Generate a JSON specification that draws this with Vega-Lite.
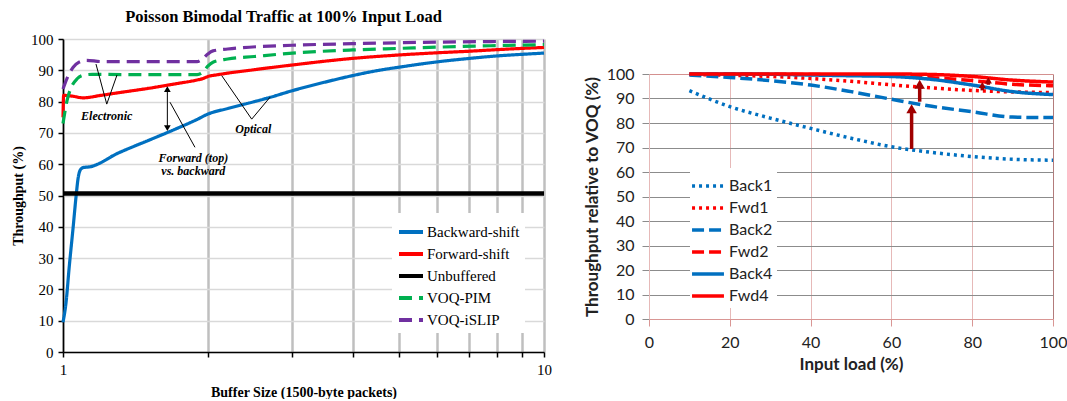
{
  "$schema": "https://vega.github.io/schema/vega-lite/v6.json",
  "background": "white",
  "padding": {"left": 11, "top": 8, "right": 0, "bottom": 0},
  "spacing": 30,
  "config": {"view": {"stroke": null}},
  "resolve": {"scale": {"color": "independent", "strokeDash": "independent"}, "legend": {"color": "independent", "strokeDash": "independent"}},
  "hconcat": [
    {
      "width": 481,
      "height": 313,
      "title": {"text": "Poisson Bimodal Traffic at 100% Input Load", "font": "Liberation Serif", "fontSize": 16.5, "fontWeight": "bold", "color": "black", "offset": 7, "anchor": "middle", "dx": -20},
      "layer": [
        {
          "data": {"values": [
            {"series": "Backward-shift", "x": 1, "y": 9.5},
            {"series": "Backward-shift", "x": 1.015, "y": 16},
            {"series": "Backward-shift", "x": 1.03, "y": 27},
            {"series": "Backward-shift", "x": 1.05, "y": 40},
            {"series": "Backward-shift", "x": 1.065, "y": 50},
            {"series": "Backward-shift", "x": 1.075, "y": 55.5},
            {"series": "Backward-shift", "x": 1.085, "y": 58},
            {"series": "Backward-shift", "x": 1.1, "y": 58.9},
            {"series": "Backward-shift", "x": 1.14, "y": 59.2},
            {"series": "Backward-shift", "x": 1.3, "y": 63.5},
            {"series": "Backward-shift", "x": 1.5, "y": 67.5},
            {"series": "Backward-shift", "x": 1.7, "y": 71},
            {"series": "Backward-shift", "x": 1.9, "y": 74.3},
            {"series": "Backward-shift", "x": 2, "y": 76},
            {"series": "Backward-shift", "x": 2.2, "y": 77.8},
            {"series": "Backward-shift", "x": 2.5, "y": 80},
            {"series": "Backward-shift", "x": 2.7, "y": 81.4},
            {"series": "Backward-shift", "x": 3, "y": 83.5},
            {"series": "Backward-shift", "x": 3.5, "y": 86.2},
            {"series": "Backward-shift", "x": 4, "y": 88.3},
            {"series": "Backward-shift", "x": 4.5, "y": 89.9},
            {"series": "Backward-shift", "x": 5, "y": 91},
            {"series": "Backward-shift", "x": 6, "y": 92.7},
            {"series": "Backward-shift", "x": 7, "y": 93.8},
            {"series": "Backward-shift", "x": 8, "y": 94.6},
            {"series": "Backward-shift", "x": 9, "y": 95.1},
            {"series": "Backward-shift", "x": 10, "y": 95.5},
            {"series": "Forward-shift", "x": 1, "y": 75},
            {"series": "Forward-shift", "x": 1.003, "y": 82},
            {"series": "Forward-shift", "x": 1.05, "y": 81.7},
            {"series": "Forward-shift", "x": 1.1, "y": 81.2},
            {"series": "Forward-shift", "x": 1.2, "y": 82},
            {"series": "Forward-shift", "x": 1.3, "y": 82.8},
            {"series": "Forward-shift", "x": 1.5, "y": 84.2},
            {"series": "Forward-shift", "x": 1.7, "y": 85.6},
            {"series": "Forward-shift", "x": 1.9, "y": 86.9},
            {"series": "Forward-shift", "x": 1.95, "y": 87.3},
            {"series": "Forward-shift", "x": 2, "y": 88},
            {"series": "Forward-shift", "x": 2.1, "y": 88.6},
            {"series": "Forward-shift", "x": 2.5, "y": 90.2},
            {"series": "Forward-shift", "x": 3, "y": 91.7},
            {"series": "Forward-shift", "x": 3.5, "y": 92.9},
            {"series": "Forward-shift", "x": 4, "y": 93.8},
            {"series": "Forward-shift", "x": 5, "y": 94.9},
            {"series": "Forward-shift", "x": 6, "y": 95.6},
            {"series": "Forward-shift", "x": 7, "y": 96.1},
            {"series": "Forward-shift", "x": 8, "y": 96.6},
            {"series": "Forward-shift", "x": 9, "y": 97},
            {"series": "Forward-shift", "x": 10, "y": 97.3},
            {"series": "Unbuffered", "x": 1, "y": 50.6},
            {"series": "Unbuffered", "x": 10, "y": 50.6},
            {"series": "VOQ-PIM", "x": 1, "y": 73},
            {"series": "VOQ-PIM", "x": 1.02, "y": 80.5},
            {"series": "VOQ-PIM", "x": 1.04, "y": 84.5},
            {"series": "VOQ-PIM", "x": 1.07, "y": 87.3},
            {"series": "VOQ-PIM", "x": 1.1, "y": 88.4},
            {"series": "VOQ-PIM", "x": 1.15, "y": 88.7},
            {"series": "VOQ-PIM", "x": 1.5, "y": 88.6},
            {"series": "VOQ-PIM", "x": 1.9, "y": 88.6},
            {"series": "VOQ-PIM", "x": 1.95, "y": 89.3},
            {"series": "VOQ-PIM", "x": 2, "y": 91.3},
            {"series": "VOQ-PIM", "x": 2.05, "y": 92.6},
            {"series": "VOQ-PIM", "x": 2.2, "y": 93.6},
            {"series": "VOQ-PIM", "x": 2.5, "y": 94.4},
            {"series": "VOQ-PIM", "x": 3, "y": 95.5},
            {"series": "VOQ-PIM", "x": 4, "y": 96.5},
            {"series": "VOQ-PIM", "x": 5, "y": 97},
            {"series": "VOQ-PIM", "x": 6, "y": 97.4},
            {"series": "VOQ-PIM", "x": 8, "y": 97.9},
            {"series": "VOQ-PIM", "x": 10, "y": 98.2},
            {"series": "VOQ-iSLIP", "x": 1, "y": 84},
            {"series": "VOQ-iSLIP", "x": 1.02, "y": 87.5},
            {"series": "VOQ-iSLIP", "x": 1.05, "y": 91},
            {"series": "VOQ-iSLIP", "x": 1.08, "y": 92.6},
            {"series": "VOQ-iSLIP", "x": 1.12, "y": 93.2},
            {"series": "VOQ-iSLIP", "x": 1.2, "y": 92.8},
            {"series": "VOQ-iSLIP", "x": 1.9, "y": 92.8},
            {"series": "VOQ-iSLIP", "x": 1.95, "y": 93.6},
            {"series": "VOQ-iSLIP", "x": 2, "y": 95.2},
            {"series": "VOQ-iSLIP", "x": 2.05, "y": 96.2},
            {"series": "VOQ-iSLIP", "x": 2.2, "y": 96.8},
            {"series": "VOQ-iSLIP", "x": 3, "y": 98},
            {"series": "VOQ-iSLIP", "x": 4, "y": 98.5},
            {"series": "VOQ-iSLIP", "x": 6, "y": 99},
            {"series": "VOQ-iSLIP", "x": 10, "y": 99.3}
          ]},
          "mark": {"type": "line", "interpolate": "monotone", "strokeCap": "butt"},
          "encoding": {
            "x": {"field": "x", "type": "quantitative", "title": "Buffer Size (1500-byte packets)",
              "scale": {"type": "log", "domain": [1, 10]},
              "axis": {"values": [1, 2, 3, 4, 5, 6, 7, 8, 9, 10], "tickCount": 20, "labelExpr": "datum.value === 1 || datum.value === 10 ? datum.label : ''",
                "grid": true, "gridColor": "#BFBFBF", "gridWidth": 2.5, "domainColor": "black", "domainWidth": 1.5,
                "tickColor": "black", "tickSize": 5, "tickWidth": 1.5, "labelFont": "Liberation Serif", "labelFontSize": 15,
                "labelColor": "black", "labelPadding": 5, "labelFlush": false, "labelOverlap": false, "titleFont": "Liberation Serif", "titleFontSize": 14,
                "titleFontWeight": "bold", "titleColor": "black", "titlePadding": 8}},
            "y": {"field": "y", "type": "quantitative", "title": "Throughput (%)",
              "scale": {"domain": [0, 100]},
              "axis": {"values": [0, 10, 20, 30, 40, 50, 60, 70, 80, 90, 100], "tickCount": 20, "labelOverlap": false, "grid": true, "gridColor": "#D9D9D9", "gridWidth": 1.5,
                "domainColor": "black", "domainWidth": 1.5, "tickColor": "black", "tickSize": 5, "tickWidth": 1.5,
                "labelFont": "Liberation Serif", "labelFontSize": 15, "labelColor": "black", "labelPadding": 5,
                "titleFont": "Liberation Serif", "titleFontSize": 14, "titleFontWeight": "bold", "titleColor": "black", "titlePadding": 5}},
            "color": {"field": "series", "type": "nominal",
              "scale": {"domain": ["Backward-shift", "Forward-shift", "Unbuffered", "VOQ-PIM", "VOQ-iSLIP"], "range": ["#0070C0", "#FF0000", "#000000", "#00B050", "#7030A0"]},
              "legend": {"title": null, "orient": "none", "legendX": 329, "legendY": 174, "fillColor": "white", "symbolType": "stroke", "symbolSize": 576, "symbolStrokeWidth": 4, "labelFont": "Liberation Serif", "labelFontSize": 15, "labelColor": "black", "rowPadding": 0, "padding": 5, "labelOffset": 2}},
            "strokeDash": {"field": "series", "type": "nominal",
              "scale": {"domain": ["Backward-shift", "Forward-shift", "Unbuffered", "VOQ-PIM", "VOQ-iSLIP"], "range": [[1, 0], [1, 0], [1, 0], [13, 7], [13, 7]]},
              "legend": {"title": null, "orient": "none", "legendX": 329, "legendY": 174, "fillColor": "white", "symbolType": "stroke", "symbolSize": 576, "symbolStrokeWidth": 4, "labelFont": "Liberation Serif", "labelFontSize": 15, "labelColor": "black", "rowPadding": 0, "padding": 5, "labelOffset": 2}},
            "strokeWidth": {"condition": {"test": "datum.series === 'Unbuffered'", "value": 4.5}, "value": 3.2}
          }
        },
        {
          "data": {"values": [
            {"x": 1.233, "y": 79.2, "x2": 1.171, "y2": 92.0},
            {"x": 1.233, "y": 79.2, "x2": 1.295, "y2": 88.5},
            {"x": 2.468, "y": 74.4, "x2": 2.138, "y2": 88.3},
            {"x": 2.468, "y": 74.4, "x2": 2.694, "y2": 81.4},
            {"x": 1.669, "y": 79.8, "x2": 1.881, "y2": 65.4},
            {"x": 1.648, "y": 72.0, "x2": 1.648, "y2": 83.8}
          ]},
          "mark": {"type": "rule", "color": "black", "strokeWidth": 1},
          "encoding": {
            "x": {"field": "x", "type": "quantitative"},
            "y": {"field": "y", "type": "quantitative"},
            "x2": {"field": "x2"},
            "y2": {"field": "y2"}
          }
        },
        {
          "data": {"values": [{"x": 1.648, "y": 84.0}]},
          "mark": {"type": "point", "shape": "triangle-up", "filled": true, "color": "black", "size": 45, "opacity": 1},
          "encoding": {"x": {"field": "x", "type": "quantitative"}, "y": {"field": "y", "type": "quantitative"}}
        },
        {
          "data": {"values": [{"x": 1.648, "y": 71.5}]},
          "mark": {"type": "point", "shape": "triangle-down", "filled": true, "color": "black", "size": 45, "opacity": 1},
          "encoding": {"x": {"field": "x", "type": "quantitative"}, "y": {"field": "y", "type": "quantitative"}}
        },
        {
          "data": {"values": [
            {"x": 1.233, "y": 75.5, "label": "Electronic"},
            {"x": 2.486, "y": 71.2, "label": "Optical"},
            {"x": 1.866, "y": 61.9, "label": "Forward (top)"},
            {"x": 1.866, "y": 57.9, "label": "vs. backward"}
          ]},
          "mark": {"type": "text", "font": "Liberation Serif", "fontSize": 12, "fontStyle": "italic", "fontWeight": "bold", "color": "black", "align": "center", "baseline": "middle"},
          "encoding": {
            "x": {"field": "x", "type": "quantitative"},
            "y": {"field": "y", "type": "quantitative"},
            "text": {"field": "label"}
          }
        }
      ]
    },
    {
      "spacing": 10,
      "vconcat": [
        {
          "width": 404,
          "height": 17,
          "data": {"values": []},
          "mark": "point"
        },
        {
          "width": 404,
          "height": 245,
          "layer": [
            {
              "data": {"values": [
                {"line": "Back1", "x": 10, "y": 93.2}, {"line": "Back1", "x": 20, "y": 86.7}, {"line": "Back1", "x": 30, "y": 82}, {"line": "Back1", "x": 40, "y": 77.8}, {"line": "Back1", "x": 50, "y": 73.8}, {"line": "Back1", "x": 60, "y": 70.3}, {"line": "Back1", "x": 70, "y": 68}, {"line": "Back1", "x": 80, "y": 66.3}, {"line": "Back1", "x": 90, "y": 65.2}, {"line": "Back1", "x": 100, "y": 64.8},
                {"line": "Fwd1", "x": 10, "y": 99.8}, {"line": "Fwd1", "x": 20, "y": 99.5}, {"line": "Fwd1", "x": 30, "y": 99}, {"line": "Fwd1", "x": 40, "y": 98.2}, {"line": "Fwd1", "x": 50, "y": 97}, {"line": "Fwd1", "x": 60, "y": 95.6}, {"line": "Fwd1", "x": 70, "y": 94.3}, {"line": "Fwd1", "x": 80, "y": 93.3}, {"line": "Fwd1", "x": 90, "y": 92.7}, {"line": "Fwd1", "x": 100, "y": 92.4},
                {"line": "Back2", "x": 10, "y": 99.6}, {"line": "Back2", "x": 20, "y": 98.6}, {"line": "Back2", "x": 30, "y": 97.3}, {"line": "Back2", "x": 40, "y": 95.5}, {"line": "Back2", "x": 50, "y": 92.8}, {"line": "Back2", "x": 60, "y": 89.7}, {"line": "Back2", "x": 70, "y": 86.8}, {"line": "Back2", "x": 80, "y": 84.6}, {"line": "Back2", "x": 90, "y": 82.4}, {"line": "Back2", "x": 100, "y": 82.2},
                {"line": "Fwd2", "x": 10, "y": 100}, {"line": "Fwd2", "x": 20, "y": 100}, {"line": "Fwd2", "x": 30, "y": 99.9}, {"line": "Fwd2", "x": 40, "y": 99.8}, {"line": "Fwd2", "x": 50, "y": 99.6}, {"line": "Fwd2", "x": 60, "y": 99.3}, {"line": "Fwd2", "x": 70, "y": 98.5}, {"line": "Fwd2", "x": 80, "y": 97.3}, {"line": "Fwd2", "x": 90, "y": 95.8}, {"line": "Fwd2", "x": 100, "y": 95.2},
                {"line": "Back4", "x": 10, "y": 100}, {"line": "Back4", "x": 20, "y": 100}, {"line": "Back4", "x": 30, "y": 99.9}, {"line": "Back4", "x": 40, "y": 99.6}, {"line": "Back4", "x": 50, "y": 99.3}, {"line": "Back4", "x": 60, "y": 99}, {"line": "Back4", "x": 70, "y": 97.8}, {"line": "Back4", "x": 80, "y": 95.5}, {"line": "Back4", "x": 90, "y": 92.8}, {"line": "Back4", "x": 100, "y": 91.6},
                {"line": "Fwd4", "x": 10, "y": 100}, {"line": "Fwd4", "x": 20, "y": 100}, {"line": "Fwd4", "x": 30, "y": 100}, {"line": "Fwd4", "x": 40, "y": 100}, {"line": "Fwd4", "x": 50, "y": 100}, {"line": "Fwd4", "x": 60, "y": 100}, {"line": "Fwd4", "x": 70, "y": 99.8}, {"line": "Fwd4", "x": 80, "y": 99}, {"line": "Fwd4", "x": 90, "y": 97.5}, {"line": "Fwd4", "x": 100, "y": 96.7}
              ]},
              "mark": {"type": "line", "interpolate": "monotone", "strokeWidth": 3.5, "strokeCap": "butt"},
              "encoding": {
                "x": {"field": "x", "type": "quantitative", "title": "Input load (%)",
                  "scale": {"domain": [0, 100]},
                  "axis": {"values": [0, 20, 40, 60, 80, 100], "tickCount": 20, "labelOverlap": false, "grid": true,
                    "gridColor": {"condition": {"test": "datum.value === 100", "value": "#B37B7B"}, "value": "#E6B9B8"},
                    "domainColor": "#D99694", "tickColor": "#D99694", "tickSize": 7, "labelFont": "Lato", "labelFontSize": 16,
                    "labelColor": "#222222", "labelPadding": 8, "labelFlush": false, "titleFont": "Lato", "titleFontSize": 17,
                    "titleFontWeight": "bold", "titleColor": "#222222", "titlePadding": 6}},
                "y": {"field": "y", "type": "quantitative", "title": "Throughput relative to VOQ (%)",
                  "scale": {"domain": [0, 100]},
                  "axis": {"values": [0, 10, 20, 30, 40, 50, 60, 70, 80, 90, 100], "tickCount": 20, "labelOverlap": false, "grid": true,
                    "gridColor": {"condition": {"test": "datum.value === 100 || datum.value === 0", "value": "#D4908F"}, "value": "#8C8C8C"},
                    "domainColor": "#E6B9B8", "tickColor": "#8C8C8C", "tickSize": 7, "labelFont": "Lato", "labelFontSize": 16,
                    "labelColor": "#222222", "labelPadding": 8, "titleFont": "Lato", "titleFontSize": 17, "titleFontWeight": "bold",
                    "titleColor": "#222222", "titlePadding": 5}},
                "color": {"field": "line", "type": "nominal",
                  "scale": {"domain": ["Back1", "Fwd1", "Back2", "Fwd2", "Back4", "Fwd4"], "range": ["#0070C0", "#FF0000", "#0070C0", "#FF0000", "#0070C0", "#FF0000"]},
                  "legend": {"title": null, "orient": "none", "legendX": 41, "legendY": 129, "fillColor": "white", "symbolType": "M-1.33,0H1.33", "symbolSize": 576, "symbolStrokeWidth": 3.5, "labelFont": "Lato", "labelFontSize": 16, "labelColor": "#222222", "rowPadding": 0, "padding": 4, "labelOffset": 7}},
                "strokeDash": {"field": "line", "type": "nominal",
                  "scale": {"domain": ["Back1", "Fwd1", "Back2", "Fwd2", "Back4", "Fwd4"], "range": [[3, 4], [3, 4], [12, 5], [12, 5], [1, 0], [1, 0]]},
                  "legend": {"title": null, "orient": "none", "legendX": 41, "legendY": 129, "fillColor": "white", "symbolType": "M-1.33,0H1.33", "symbolSize": 576, "symbolStrokeWidth": 3.5, "labelFont": "Lato", "labelFontSize": 16, "labelColor": "#222222", "rowPadding": 0, "padding": 4, "labelOffset": 7}}
              }
            },
            {
              "data": {"values": [
                {"x": 65, "y": 69.4, "y2": 85},
                {"x": 67, "y": 88.7, "y2": 95},
                {"x": 82.5, "y": 93.3, "y2": 95.2},
                {"x": 84, "y": 95.6, "y2": 97.2}
              ]},
              "mark": {"type": "rule", "color": "#A00000", "strokeWidth": 3.5},
              "encoding": {
                "x": {"field": "x", "type": "quantitative"},
                "y": {"field": "y", "type": "quantitative"},
                "y2": {"field": "y2"}
              }
            },
            {
              "data": {"values": [
                {"x": 65, "y": 85.8, "kind": "big"},
                {"x": 67, "y": 95.8, "kind": "big"},
                {"x": 82.5, "y": 95.5, "kind": "small"},
                {"x": 84, "y": 97.4, "kind": "small"}
              ]},
              "mark": {"type": "point", "shape": "triangle-up", "filled": true, "color": "#A00000", "opacity": 1},
              "encoding": {
                "x": {"field": "x", "type": "quantitative"},
                "y": {"field": "y", "type": "quantitative"},
                "size": {"field": "kind", "type": "nominal", "scale": {"domain": ["big", "small"], "range": [110, 50]}, "legend": null}
              }
            }
          ]
        }
      ]
    }
  ]
}
